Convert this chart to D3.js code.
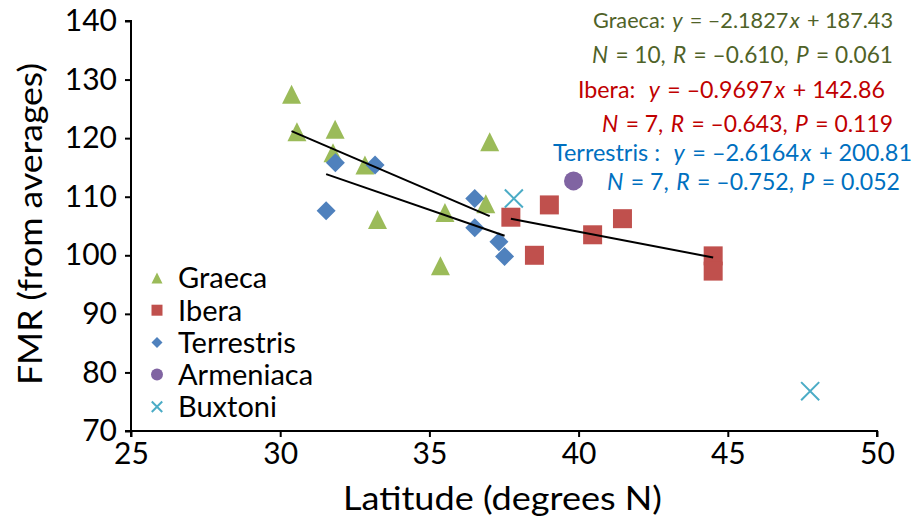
<!DOCTYPE html>
<html>
<head>
<meta charset="utf-8">
<script src="https://d3js.org/d3.v7.min.js"></script>
<style>
  html, body { margin: 0; padding: 0; background: #fff; }
  text { font-family: Lato, "Open Sans", sans-serif; }
</style>
</head>
<body>
<svg id="chart" width="917" height="527"></svg>
<script>
// ---- data ----
const seriesNames = ["Graeca", "Ibera", "Terrestris", "Armeniaca", "Buxtoni"];
const seriesColors = ["#9bbb59", "#c0504d", "#4f81bd", "#8064a2", "#4bacc6"];
const seriesShapes = ["triangle", "square", "diamond", "circle", "cross"];

const graecaLat = [30.38, 30.56, 31.84, 31.77, 32.84, 33.26, 35.37, 35.52, 36.89, 37.02];
const graecaFMR = [127.5, 121.1, 121.5, 117.5, 115.4, 106.1, 98.2, 107.3, 108.8, 119.4];
const iberaLat = [37.73, 39.02, 38.52, 40.47, 41.47, 44.51, 44.51];
const iberaFMR = [106.5, 108.6, 100.0, 103.5, 106.25, 99.9, 97.3];
const terrestrisLat = [31.54, 31.85, 33.18, 36.52, 36.52, 37.33, 37.52];
const terrestrisFMR = [107.6, 115.8, 115.4, 109.7, 104.7, 102.3, 99.8];
const armeniacaLat = [39.83];
const armeniacaFMR = [112.7];
const buxtoniLat = [37.83, 47.76];
const buxtoniFMR = [109.7, 76.8];

const xTicks = [25, 30, 35, 40, 45, 50];
const yTicks = [70, 80, 90, 100, 110, 120, 130, 140];

// regression annotation text
const annotations = [
  { color: "#4f6228", parts: [["Graeca: ", 0], ["y", 1], [" = –2.1827", 0], ["x", 1], [" + 187.43", 0]] },
  { color: "#4f6228", parts: [["N", 1], [" = 10, ", 0], ["R", 1], [" = –0.610, ", 0], ["P", 1], [" = 0.061", 0]] },
  { color: "#c00000", parts: [["Ibera:  ", 0], ["y", 1], [" = –0.9697", 0], ["x", 1], [" + 142.86", 0]] },
  { color: "#c00000", parts: [["N", 1], [" = 7, ", 0], ["R", 1], [" = –0.643, ", 0], ["P", 1], [" = 0.119", 0]] },
  { color: "#0070c0", parts: [["Terrestris :  ", 0], ["y", 1], [" = –2.6164", 0], ["x", 1], [" + 200.81", 0]] },
  { color: "#0070c0", parts: [["N", 1], [" = 7, ", 0], ["R", 1], [" = –0.752, ", 0], ["P", 1], [" = 0.052", 0]] }
];
const annoLayout = [
  { x: 593, y: 28, w: 300 },
  { x: 592, y: 63, w: 301 },
  { x: 578, y: 98, w: 307 },
  { x: 602, y: 132, w: 291 },
  { x: 553, y: 161, w: 359 },
  { x: 607, y: 190, w: 293 }
];

// ---- build ----
const series = [
  { lat: graecaLat, fmr: graecaFMR, trend: true },
  { lat: iberaLat, fmr: iberaFMR, trend: true },
  { lat: terrestrisLat, fmr: terrestrisFMR, trend: true },
  { lat: armeniacaLat, fmr: armeniacaFMR, trend: false },
  { lat: buxtoniLat, fmr: buxtoniFMR, trend: false }
].map((s, i) => ({ ...s, name: seriesNames[i], color: seriesColors[i], shape: seriesShapes[i] }));

const svg = d3.select("#chart");
const x = d3.scaleLinear().domain([25, 50]).range([131, 877]);
const y = d3.scaleLinear().domain([70, 140]).range([431, 21]);

function shapePath(shape, cx, cy, s) {
  const h = s / 2;
  switch (shape) {
    case "triangle": return `M${cx},${cy - h}L${cx + h},${cy + h}L${cx - h},${cy + h}Z`;
    case "square": return `M${cx - h},${cy - h}H${cx + h}V${cy + h}H${cx - h}Z`;
    case "diamond": return `M${cx},${cy - h}L${cx + h},${cy}L${cx},${cy + h}L${cx - h},${cy}Z`;
    case "circle": return `M${cx - h},${cy}A${h},${h} 0 1,0 ${cx + h},${cy}A${h},${h} 0 1,0 ${cx - h},${cy}Z`;
    case "cross": { const c = h * 0.95; return `M${cx - c},${cy - c}L${cx + c},${cy + c}M${cx + c},${cy - c}L${cx - c},${cy + c}`; }
  }
}
function drawMarker(g, shape, color, cx, cy, s) {
  const p = g.append("path").attr("d", shapePath(shape, cx, cy, s));
  if (shape === "cross") p.attr("fill", "none").attr("stroke", color).attr("stroke-width", 2);
  else p.attr("fill", color);
}

// axes
const xAxis = d3.axisBottom(x).tickValues(xTicks).tickSize(6).tickPadding(8);
const yAxis = d3.axisLeft(y).tickValues(yTicks).tickSize(6).tickPadding(8);
const gx = svg.append("g").attr("transform", `translate(0,${y(70)})`).call(xAxis);
const gy = svg.append("g").attr("transform", `translate(${x(25)},0)`).call(yAxis);
[gx, gy].forEach(g => {
  g.select(".domain").attr("stroke", "#000").attr("stroke-width", 2);
  g.selectAll(".tick line").attr("stroke", "#000").attr("stroke-width", 2);
  g.selectAll(".tick text").attr("fill", "#000").style("font-family", "Lato, sans-serif").style("font-size", "30px");
});
gx.select(".domain").attr("d", `M${x(25)},6V0H${x(50)}V6`);
gy.select(".domain").attr("d", `M-6,${y(140)}H0V${y(70)}H-6`);
gx.selectAll(".tick text").attr("dy", "0.71em").attr("y", 12);
gy.selectAll(".tick text").attr("x", -14);

// points
const gp = svg.append("g");
series.forEach(s => {
  s.lat.forEach((v, i) => drawMarker(gp, s.shape, s.color, x(v), y(s.fmr[i]), 19));
});

// trend lines (least squares from the data)
series.filter(s => s.trend).forEach(s => {
  const n = s.lat.length;
  const mx = d3.mean(s.lat), my = d3.mean(s.fmr);
  let sxy = 0, sxx = 0;
  for (let i = 0; i < n; i++) { sxy += (s.lat[i] - mx) * (s.fmr[i] - my); sxx += (s.lat[i] - mx) ** 2; }
  const b = sxy / sxx, a = my - b * mx;
  const [x0, x1] = d3.extent(s.lat);
  svg.append("line")
    .attr("x1", x(x0)).attr("y1", y(a + b * x0))
    .attr("x2", x(x1)).attr("y2", y(a + b * x1))
    .attr("stroke", "#000").attr("stroke-width", 2);
});

// annotations: each part is its own text element, placed side by side
const GAP = 1.5;
annotations.forEach((an, i) => {
  const L = annoLayout[i];
  const g = svg.append("g");
  const nodes = an.parts.map(p => g.append("text").attr("y", L.y)
    .attr("fill", an.color).style("font-size", "23px")
    .style("font-style", p[1] ? "italic" : "normal")
    .style("white-space", "pre").attr("xml:space", "preserve").text(p[0]));
  const gaps = GAP * (nodes.length - 1);
  let widths = nodes.map(n => n.node().getComputedTextLength());
  let k = (L.w - gaps) / d3.sum(widths);
  if (k < 1) {
    // shrink the font instead of squeezing glyphs
    nodes.forEach(n => n.style("font-size", (23 * k * 0.995) + "px"));
    widths = nodes.map(n => n.node().getComputedTextLength());
    k = (L.w - gaps) / d3.sum(widths);
  }
  let cx = L.x;
  nodes.forEach((n, j) => {
    const w = widths[j] * k;
    n.attr("x", cx);
    if (k > 1) n.attr("textLength", w).attr("lengthAdjust", "spacingAndGlyphs");
    cx += w + GAP;
  });
});

// legend
const gl = svg.append("g");
series.forEach((s, i) => {
  const cy = 278 + i * 32.2;
  drawMarker(gl, s.shape, s.color, 157, cy, s.shape === "circle" ? 12 : 11);
  gl.append("text").attr("x", 178).attr("y", cy).attr("dy", "0.36em")
    .attr("fill", "#000").style("font-size", "29px").text(s.name);
});

// axis titles
svg.append("text").attr("x", 343).attr("y", 510)
  .attr("textLength", 319).attr("lengthAdjust", "spacingAndGlyphs")
  .style("font-size", "33px").attr("fill", "#000").text("Latitude (degrees N)");
svg.append("text").attr("transform", "translate(42,385) rotate(-90)")
  .attr("textLength", 322).attr("lengthAdjust", "spacingAndGlyphs")
  .style("font-size", "33px").attr("fill", "#000").text("FMR (from averages)");
</script>
</body>
</html>
